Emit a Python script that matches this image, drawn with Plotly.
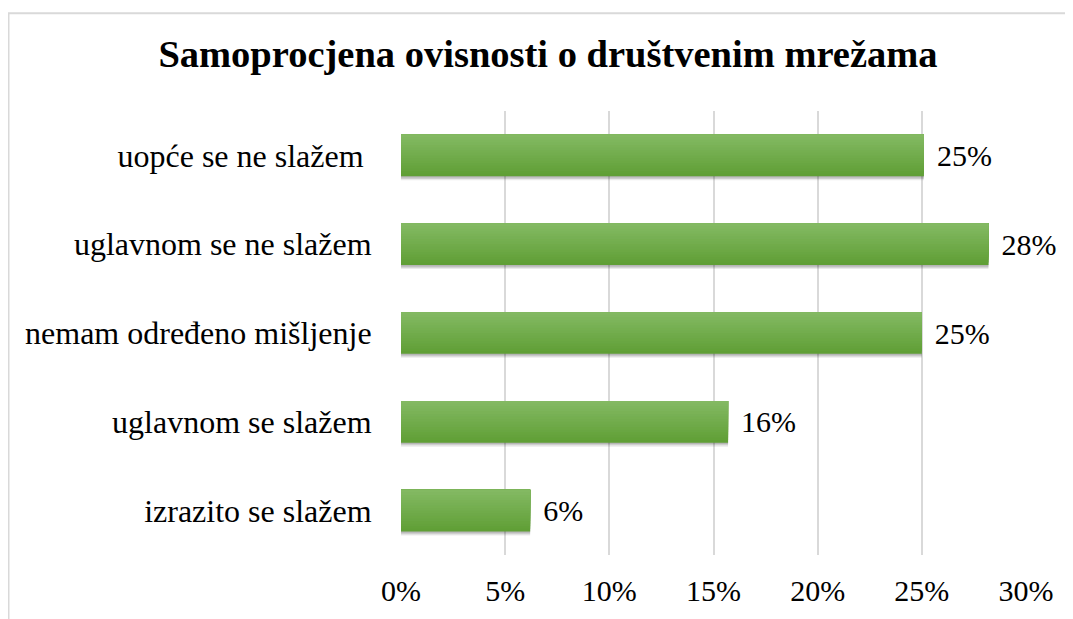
import plotly.graph_objects as go

# Data (bottom-to-top order on the chart)
categories = ["izrazito se slažem", "uglavnom se slažem", "nemam određeno mišljenje",
              "uglavnom se ne slažem", "uopće se ne slažem\u00a0"]
values = [6.2, 15.7, 25.0, 28.2, 25.1]
labels = ["6%", "16%", "25%", "28%", "25%"]
x_ticks = [0, 5, 10, 15, 20, 25, 30]
x_ticktext = ["0%", "5%", "10%", "15%", "20%", "25%", "30%"]

FONT = "Liberation Serif"
BAR_W = 0.47
N_BANDS = 16
c_bottom = (0x5f, 0x9e, 0x34)
c_top = (0x84, 0xba, 0x64)

fig = go.Figure()

# soft shadow under bars
for dy, alpha in [(0.045, 0.08), (0.03, 0.12), (0.015, 0.12)]:
    fig.add_trace(go.Bar(
        y=categories, x=values, orientation="h",
        width=BAR_W, offset=-BAR_W / 2 - dy,
        marker=dict(color=f"rgba(0,0,0,{alpha})", line=dict(width=0)),
        hoverinfo="skip", showlegend=False))

# gradient bands (each band covers from its start to the top of the bar)
for k in range(N_BANDS):
    t = (k + 0.5) / N_BANDS
    col = tuple(int(round(c_bottom[i] + (c_top[i] - c_bottom[i]) * t)) for i in range(3))
    start = -BAR_W / 2 + k * BAR_W / N_BANDS
    fig.add_trace(go.Bar(
        y=categories, x=values, orientation="h",
        width=BAR_W / 2 - start, offset=start,
        marker=dict(color=f"rgb{col}", line=dict(width=0)),
        hoverinfo="skip", showlegend=False))

# transparent bar carrying data labels
fig.add_trace(go.Bar(
    y=categories, x=values, orientation="h", width=BAR_W,
    marker=dict(color="rgba(0,0,0,0)", line=dict(width=0)),
    text=["\u00a0\u200a" + s for s in labels], textposition="outside",
    cliponaxis=False, constraintext="none",
    textfont=dict(family=FONT, size=30, color="#000000"),
    hoverinfo="skip", showlegend=False))

# border of the chart area
fig.add_shape(type="rect", xref="paper", yref="paper",
              x0=-0.628, x1=1.1, y0=-0.25, y1=1.2202,
              line=dict(color="#d9d9d9", width=2), fillcolor="rgba(0,0,0,0)", layer="below")

fig.update_layout(
    width=1073, height=619,
    margin=dict(l=393, r=55, t=102.5, b=71.5),
    paper_bgcolor="white", plot_bgcolor="white",
    barmode="overlay",
    title=dict(text="<b>Samoprocjena ovisnosti o društvenim mrežama</b>",
               x=540 / 1073, xanchor="center", xref="container",
               y=1 - 46 / 619, yanchor="middle", yref="container",
               font=dict(family=FONT, size=38.5, color="#000000")),
    xaxis=dict(range=[0, 30], tickvals=x_ticks, ticktext=x_ticktext,
               showgrid=True, gridcolor="#d9d9d9", gridwidth=1.5,
               zeroline=False, showline=False,
               ticks="outside", ticklen=9, tickcolor="rgba(0,0,0,0)",
               tickfont=dict(family=FONT, size=30, color="#000000")),
    yaxis=dict(showgrid=False, zeroline=False, showline=False,
               ticks="outside", ticklen=22, tickcolor="rgba(0,0,0,0)",
               tickfont=dict(family=FONT, size=32, color="#000000")),
)

fig.write_html("out.html")
